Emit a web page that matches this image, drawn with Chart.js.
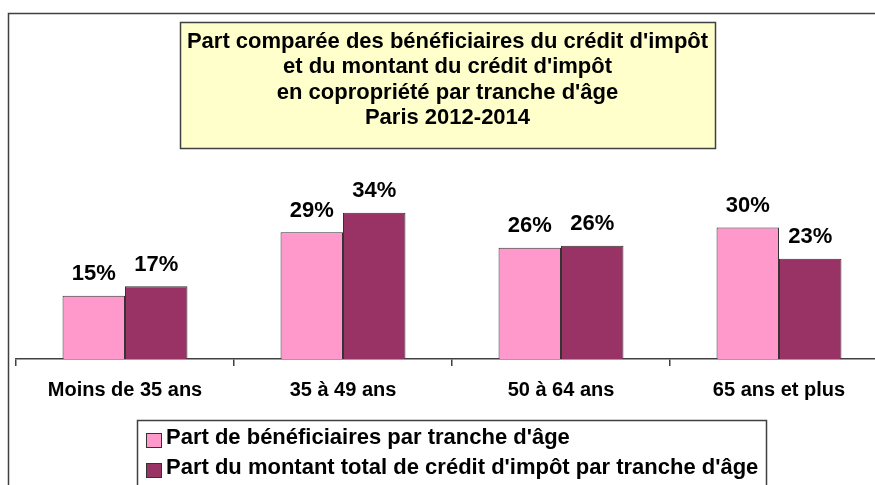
<!DOCTYPE html>
<html>

<head>
    <title>Part comparée des bénéficiaires du crédit d'impôt</title>
    <style>
        html, body { margin: 0; padding: 0; overflow: hidden; background: #fff; }
        #wrap { width: 900px; height: 485px; position: relative; }
    </style>
</head>

<body>
    <div id="wrap">
        <canvas id="ageChart"></canvas>
    </div>

    <script src="https://cdn.jsdelivr.net/npm/chart.js"></script>
    <script type="text/javascript">
        const categories = ['Moins de 35 ans', '35 à 49 ans', '50 à 64 ans', '65 ans et plus'];
        const beneficiaires = [14.6, 29.3, 25.7, 30.4];
        const montant = [16.8, 33.8, 26.2, 23.2];
        const seriesNames = [
            "Part de bénéficiaires par tranche d'âge",
            "Part du montant total de crédit d'impôt par tranche d'âge"
        ];
        const titleLines = [
            "Part comparée des bénéficiaires du crédit d'impôt",
            "et du montant du crédit d'impôt",
            "en copropriété par tranche d'âge",
            "Paris 2012-2014"
        ];

        const FONT = '"Liberation Sans", Arial, sans-serif';

        // frame, title box, legend box
        const decorPlugin = {
            id: 'decor',
            beforeDraw(chart) {
                const ctx = chart.ctx;
                ctx.save();
                ctx.strokeStyle = '#404040';
                ctx.lineWidth = 1.5;
                ctx.strokeRect(8.5, 13.5, 1000, 600);
                ctx.restore();
            },
            afterDraw(chart) {
                const ctx = chart.ctx;
                ctx.save();
                // title box
                ctx.fillStyle = '#FFFFCC';
                ctx.fillRect(180, 22, 535, 126);
                ctx.strokeStyle = '#404040';
                ctx.lineWidth = 1.5;
                ctx.strokeRect(180.5, 22.5, 535, 126);
                ctx.fillStyle = '#000';
                ctx.font = 'bold 22px ' + FONT;
                ctx.textAlign = 'center';
                ctx.textBaseline = 'alphabetic';
                titleLines.forEach((line, i) => {
                    ctx.fillText(line, 447.5, 48 + i * 25.3);
                });

                // legend box
                ctx.fillStyle = '#fff';
                ctx.fillRect(137, 420, 629, 100);
                ctx.strokeRect(137.5, 420.5, 629, 100);
                ctx.textAlign = 'left';
                chart.data.datasets.forEach((ds, i) => {
                    const y = 433 + i * 30;
                    ctx.fillStyle = ds.backgroundColor;
                    ctx.fillRect(146, y, 15, 14);
                    ctx.strokeStyle = '#333';
                    ctx.lineWidth = 1;
                    ctx.strokeRect(146.5, y + 0.5, 15, 14);
                    ctx.fillStyle = '#000';
                    ctx.fillText(ds.label, 166, y + 11);
                });
                ctx.restore();
            }
        };

        // value labels above the bars
        const valueLabels = {
            id: 'valueLabels',
            afterDatasetsDraw(chart) {
                const ctx = chart.ctx;
                ctx.save();
                ctx.fillStyle = '#000';
                ctx.font = 'bold 22px ' + FONT;
                ctx.textAlign = 'center';
                ctx.textBaseline = 'alphabetic';
                chart.data.datasets.forEach((ds, i) => {
                    chart.getDatasetMeta(i).data.forEach((bar, j) => {
                        ctx.fillText(Math.round(ds.data[j]) + '%', bar.x, bar.y - 15.5);
                    });
                });
                ctx.restore();
            }
        };

        const ctx = document.getElementById('ageChart');
        window.ageChart = new Chart(ctx, {
            type: 'bar',
            data: {
                labels: categories,
                datasets: [{
                    label: seriesNames[0],
                    data: beneficiaires,
                    backgroundColor: '#FF99CC',
                    borderColor: '#333333',
                    borderWidth: 1,
                    categoryPercentage: 0.573,
                    barPercentage: 1
                }, {
                    label: seriesNames[1],
                    data: montant,
                    backgroundColor: '#993366',
                    borderColor: '#333333',
                    borderWidth: 1,
                    categoryPercentage: 0.573,
                    barPercentage: 1
                }]
            },
            options: {
                responsive: true,
                maintainAspectRatio: false,
                animation: false,
                layout: {
                    padding: { left: 16, right: 12, top: 186, bottom: 0 }
                },
                plugins: {
                    legend: { display: false },
                    title: { display: false },
                    tooltip: { enabled: false }
                },
                scales: {
                    x: {
                        afterFit: (scale) => { scale.height = 126; },
                        grid: {
                            offset: true,
                            drawOnChartArea: false,
                            drawTicks: true,
                            tickLength: 7,
                            color: '#404040',
                            lineWidth: 1.5
                        },
                        border: { display: true, color: '#404040', width: 1.5 },
                        ticks: {
                            color: '#000',
                            padding: 12,
                            font: { family: FONT, size: 20, weight: 'bold' }
                        }
                    },
                    y: {
                        display: false,
                        min: 0,
                        max: 40
                    }
                }
            },
            plugins: [decorPlugin, valueLabels]
        });
    </script>
</body>

</html>
